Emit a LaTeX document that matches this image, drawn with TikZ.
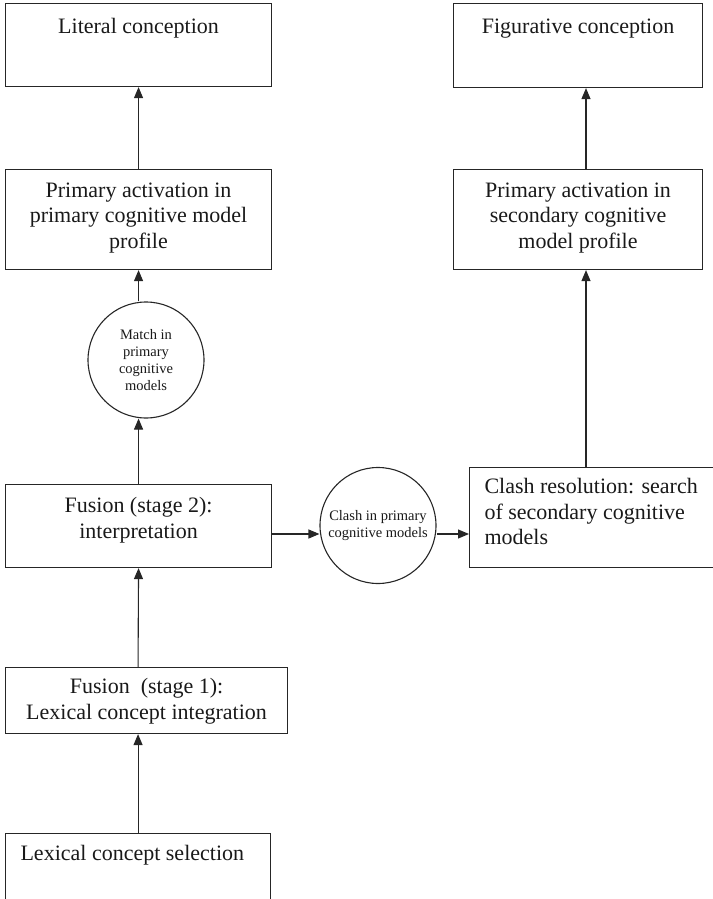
\documentclass[tikz,border=0pt]{standalone}
\usepackage{fontspec}
\setmainfont{Liberation Serif}
\usetikzlibrary{arrows.meta}
\newcommand{\bxc}[4]{\begin{minipage}[t][#2][t]{#1}\vspace*{#3}\centering #4\end{minipage}}
\newcommand{\bxl}[4]{\begin{minipage}[t][#2][t]{#1}\vspace*{#3}\raggedright\leftskip=15pt #4\end{minipage}}
\tikzset{
  box/.style={draw=black!85, line width=1.1pt, inner sep=0pt, anchor=north west, text=black!90,
    font=\fontsize{22}{25.5}\selectfont},
  circ/.style={draw=black!85, line width=1.1pt, circle, minimum size=116pt, inner sep=0pt,
    align=center, text=black!90, font=\fontsize{14.5}{17}\selectfont},
  arr/.style={draw=black!85, line width=1.1pt, -{Triangle[length=11pt,width=9pt]}}
}
\begin{document}
\begin{tikzpicture}[x=1pt,y=-1pt]
\useasboundingbox (0,0) rectangle (712,899);
% boxes
\node[box] (lit) at (5,3) {\bxc{266pt}{83pt}{15pt}{Literal conception}};
\node[box] (fig) at (453,3) {\bxc{249pt}{84pt}{15pt}{Figurative conception}};
\node[box] (pal) at (5,169) {\bxc{266pt}{100pt}{13pt}{Primary activation in\\primary cognitive model\\profile}};
\node[box] (par) at (453,169) {\bxc{249pt}{100pt}{13pt}{Primary activation in\\secondary cognitive\\model profile}};
\node[box] (ftwo) at (5,484) {\bxc{266pt}{83pt}{13pt}{Fusion (stage 2):\\interpretation}};
\node[box] (cr) at (469,467) {\bxl{250pt}{100pt}{11pt}{Clash resolution: search\\of secondary cognitive\\models}};
\node[box] (fone) at (5,667) {\bxc{282pt}{66pt}{11pt}{Fusion\ \ (stage 1):\\Lexical concept integration}};
\node[box] (lcs) at (5,833) {\bxl{265pt}{72pt}{12pt}{Lexical concept selection}};
% circles
\node[circ] (match) at (146,360) {Match in\\primary\\cognitive\\models};
\node[circ] (clash) at (378,525.5) {Clash in primary\\cognitive models};
% helper coordinates
\coordinate (ay) at (0,534);
\coordinate (ax) at (586,0);
% connectors
\draw[arr] (lcs.north) -- (lcs.north |- fone.south);
\draw[arr] (fone.north -| lcs.north) -- (ftwo.south);
\draw[arr] (ftwo.north) -- (match.south -| ftwo.north);
\draw[arr] (match.north -| ftwo.north) -- (pal.south);
\draw[arr] (pal.north) -- (lit.south);
\draw[arr] (ftwo.east |- ay) -- (clash.west |- ay);
\draw[arr] (clash.east |- ay) -- (cr.west |- ay);
\draw[arr] (cr.north -| ax) -- (par.south -| ax);
\draw[arr] (par.north -| ax) -- (fig.south -| ax);
\end{tikzpicture}
\end{document}
